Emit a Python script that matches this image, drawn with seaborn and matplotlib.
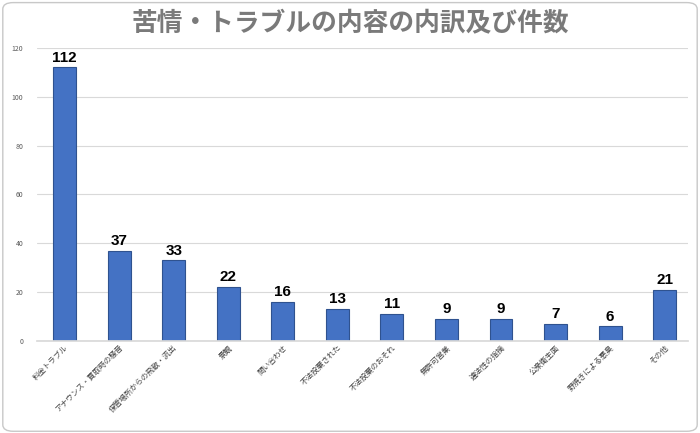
import matplotlib
matplotlib.use("Agg")
import matplotlib.pyplot as plt
from matplotlib.patches import FancyBboxPatch
import pandas as pd
import seaborn as sns

categories = ["料金トラブル", "アナウンス・買取時の騒音", "保管場所からの飛散・流出", "景観",
              "問い合わせ", "不法投棄された", "不法投棄のおそれ", "無許可営業",
              "違法性の指摘", "公衆衛生面", "野焼きによる悪臭", "その他"]
counts = [112, 37, 33, 22, 16, 13, 11, 9, 9, 7, 6, 21]
yticks = [0, 20, 40, 60, 80, 100, 120]

df = pd.DataFrame({"内容": categories, "件数": counts})

sns.set_theme(style="white")
plt.rcParams["font.family"] = ["Noto Sans CJK JP", "DejaVu Sans"]

fig = plt.figure(figsize=(7, 4.33), dpi=100)
ax = fig.add_axes([0.053, 0.2125, 0.930, 0.677])

# rounded frame around the whole chart
frame = FancyBboxPatch((0.004, 0.004), 0.992, 0.99, boxstyle="round,pad=0,rounding_size=0.015",
                       transform=fig.transFigure, facecolor="none", edgecolor="#c8c8c8", linewidth=1.0)
fig.patches.append(frame)

sns.barplot(data=df, x="内容", y="件数", color="#4472C4", edgecolor="#2F528F", linewidth=0.8,
            width=0.42, saturation=1, ax=ax)

ax.bar_label(ax.containers[0], fontsize=11, fontweight="bold", color="black", padding=2,
             family=["Liberation Sans", "DejaVu Sans"])

ax.set_ylim(0, 120)
ax.set_yticks(yticks)
ax.set_xlim(-0.505, len(categories) - 0.57)
ax.set_xlabel("")
ax.set_ylabel("")
ax.yaxis.grid(True, color="#d9d9d9", linewidth=0.8)
ax.set_axisbelow(True)
for side in ["left", "right", "top"]:
    ax.spines[side].set_visible(False)
ax.spines["bottom"].set_color("#d9d9d9")
ax.tick_params(axis="y", labelsize=5, colors="#595959", length=0, pad=10)
ax.tick_params(axis="x", length=0, pad=2)
ax.set_xticks(range(len(categories)))
ax.set_xticklabels(categories, rotation=45, ha="right", rotation_mode="anchor", fontsize=5.5, color="#404040")

fig.text(0.5, 0.947, "苦情・トラブルの内容の内訳及び件数", ha="center", va="center",
         fontsize=18.5, fontweight="bold", color="#7a7a7a")

fig.savefig("out.png", dpi=100)
